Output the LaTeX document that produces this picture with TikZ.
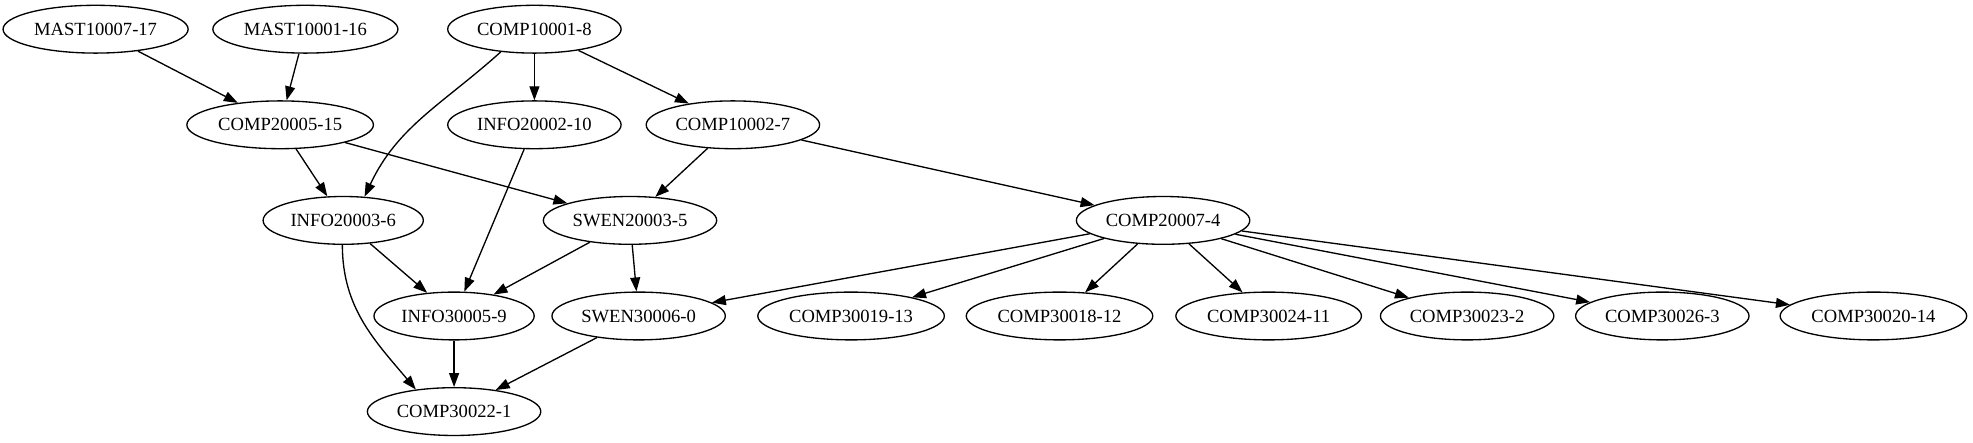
\documentclass[tikz,border=0pt]{standalone}
\usepackage{fontspec}
\setmainfont{Liberation Serif}
\usetikzlibrary{arrows.meta,shapes.geometric}
\tikzset{
  gnode/.style={draw, ellipse, line width=1pt, inner xsep=3pt, inner ysep=2pt,
    minimum height=36pt, font=\fontsize{14pt}{16pt}\selectfont},
  gedge/.style={draw, line width=1pt, -{Triangle[length=10.5pt,width=7.5pt]}}
}
\begin{document}
\begin{tikzpicture}[x=1pt,y=1pt]
\useasboundingbox (0,0) rectangle (1486,333.6);
% rank 0
\node[gnode] (m17) at (72,311.6) {MAST10007-17};
\node[gnode] (m16) at (230,311.6) {MAST10001-16};
\node[gnode] (c8) at (402.5,311.6) {COMP10001-8};
% rank 1
\node[gnode] (c15) at (211,239.6) {COMP20005-15};
\node[gnode] (i10) at (402.5,239.6) {INFO20002-10};
\node[gnode] (c7) at (552,239.6) {COMP10002-7};
% rank 2
\node[gnode] (i6) at (258.5,167.6) {INFO20003-6};
\node[gnode] (s5) at (474.5,167.6) {SWEN20003-5};
\node[gnode] (c4) at (876,167.6) {COMP20007-4};
% rank 3
\node[gnode] (i9) at (342,95.6) {INFO30005-9};
\node[gnode] (s0) at (481,95.6) {SWEN30006-0};
\node[gnode] (c13) at (641,95.6) {COMP30019-13};
\node[gnode] (c12) at (798,95.6) {COMP30018-12};
\node[gnode] (c11) at (955.5,95.6) {COMP30024-11};
\node[gnode] (c2) at (1105,95.6) {COMP30023-2};
\node[gnode] (c3) at (1252,95.6) {COMP30026-3};
\node[gnode] (c14) at (1411,95.6) {COMP30020-14};
% rank 4
\node[gnode] (c1) at (342,23.6) {COMP30022-1};
% edges
\draw[gedge] (m17) -- (c15);
\draw[gedge] (m16) -- (c15);
\draw[gedge] (c8) -- (i10);
\draw[gedge] (c8) -- (c7);
\draw[gedge] (c8.-146) to[out=-138,in=65] (i6.48);
\draw[gedge] (c15) -- (i6);
\draw[gedge] (c15) -- (s5);
\draw[gedge] (i10) -- (i9);
\draw[gedge] (c7) -- (s5);
\draw[gedge] (c7) -- (c4);
\draw[gedge] (i6) -- (i9);
\draw[gedge] (i6.-92) to[out=-90,in=130] (c1.150);
\draw[gedge] (s5) -- (i9);
\draw[gedge] (s5) -- (s0);
\draw[gedge] (i9) -- (c1);
\draw[gedge] (s0) -- (c1);
\draw[gedge] (c4) -- (s0);
\draw[gedge] (c4) -- (c13);
\draw[gedge] (c4) -- (c12);
\draw[gedge] (c4) -- (c11);
\draw[gedge] (c4) -- (c2);
\draw[gedge] (c4) -- (c3);
\draw[gedge] (c4) -- (c14);
\end{tikzpicture}
\end{document}
